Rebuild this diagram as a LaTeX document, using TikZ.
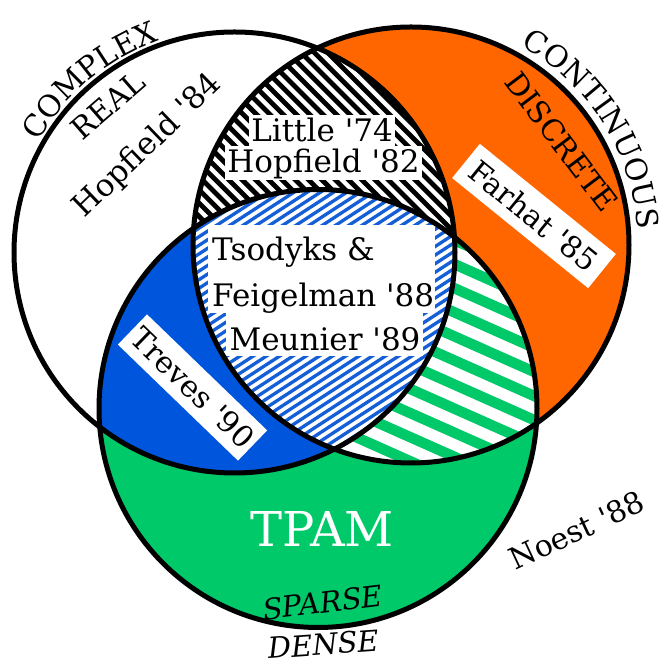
\documentclass[tikz,border=0pt]{standalone}
\usepackage{fontspec}
\setmainfont{DejaVu Serif}[Ligatures=TeXOff]
\usetikzlibrary{decorations.text,calc}
\definecolor{vorange}{RGB}{255,102,0}
\definecolor{vgreen}{RGB}{0,201,106}
\definecolor{vblue}{RGB}{0,85,221}
\definecolor{sblue}{RGB}{20,95,215}
\begin{document}
\begin{tikzpicture}[x=1pt,y=1pt,
  ring/.style={draw=black,line width=5pt},
  lbl/.style={font=\fontsize{30}{34}\selectfont, inner sep=0pt},
  big/.style={font=\fontsize{31}{34}\selectfont, inner sep=0pt},
  hl/.style={fill=white, font=\fontsize{31}{34}\selectfont, inner xsep=2pt, inner ysep=4pt, text height=23pt},
  tagbox/.style={fill=white, inner sep=0pt, font=\fontsize{30}{34}\selectfont},
  wrect/.style={fill=white, inner sep=0pt},
]
\useasboundingbox (0,0) rectangle (665,660);
\fill[white] (0,0) rectangle (665,660);
\coordinate (Lc) at (234.5,407.5);
\coordinate (Rc) at (411,415);
\coordinate (Bc) at (318,251.5);

% right circle
\fill[vorange] (Rc) circle[radius=218];
% L and R: black hatch
\begin{scope}
  \clip (Lc) circle[radius=220.5];
  \clip (Rc) circle[radius=218];
  \fill[white] (0,0) rectangle (665,660);
  \begin{scope}[shift={(322,520)},rotate=-45]
    \foreach \i in {-30,...,30} \draw[line width=4.8pt] (-320,\i*9.4) -- (320,\i*9.4);
  \end{scope}
\end{scope}
% bottom circle
\fill[vgreen] (Bc) circle[radius=219];
% B and L: blue
\begin{scope}
  \clip (Bc) circle[radius=219];
  \fill[vblue] (Lc) circle[radius=220.5];
\end{scope}
% B and R: green hatch
\begin{scope}
  \clip (Bc) circle[radius=219];
  \clip (Rc) circle[radius=218];
  \fill[white] (0,0) rectangle (665,660);
  \begin{scope}[shift={(440,330)},rotate=-24]
    \foreach \i in {-15,...,15} \draw[vgreen,line width=10.5pt] (-320,\i*22) -- (320,\i*22);
  \end{scope}
\end{scope}
% all three: blue hatch
\begin{scope}
  \clip (Bc) circle[radius=219];
  \clip (Rc) circle[radius=218];
  \clip (Lc) circle[radius=220.5];
  \fill[white] (0,0) rectangle (665,660);
  \begin{scope}[shift={(322,340)},rotate=33]
    \foreach \i in {-40,...,40} \draw[sblue,line width=3.3pt] (-320,\i*7.2) -- (320,\i*7.2);
  \end{scope}
\end{scope}

% white boxes and their texts
\node[hl, anchor=base, text depth=0pt] (little) at (322,518) {Little '74};
\node[hl, anchor=base, text depth=3pt] (hop82) at (323.5,487) {Hopfield '82};
\node[wrect, minimum width=227pt, minimum height=88pt] (boxa) at (321.5,391) {};
\node[wrect, minimum width=197pt, minimum height=43pt] (boxb) at (324.5,325.5) {};
\node[big, anchor=base west] (tsod) at (212,399) {Tsodyks \&};
\node[big, anchor=base west] (feig) at (212,353.5) {Feigelman '88};
\node[big, anchor=base] (meun) at (325,309) {Meunier '89};
\node[tagbox, rotate=-39, minimum width=175pt, minimum height=44pt] (farhat) at (534,444) {Farhat '85};
\node[tagbox, rotate=-44, minimum width=167pt, minimum height=42pt] (treves) at (192.5,272.5) {Treves '90};

% circle outlines
\draw[ring] (Lc) circle[radius=220.5];
\draw[ring] (Rc) circle[radius=218];
\draw[ring] (Bc) circle[radius=219];

% free labels
\node[big, rotate=44] (hop84) at (148,514) {Hopfield '84};
\node[lbl, rotate=41] (real) at (108,555) {REAL};
\node[lbl, rotate=-53] (discrete) at (561.7,518.3) {DISCRETE};
\node[lbl, text=white, font=\fontsize{48}{54}\selectfont, anchor=base] (tpam) at (322,113) {TPAM};
\node[lbl, font=\fontsize{29}{32}\selectfont\itshape, rotate=7, anchor=base] (sparse) at (324,47) {SPARSE};
\node[lbl, font=\fontsize{29}{32}\selectfont\itshape, rotate=4, anchor=base] (dense) at (324,5) {DENSE};
\node[lbl, rotate=25] (noest) at (576.7,129.7) {Noest '88};

\path[decorate, decoration={text along path, text align=center,
  text={|\fontsize{30}{34}\selectfont|COMPLEX}}]
  ($(Lc)+(175:225)$) arc[start angle=175, end angle=85, radius=225];
\path[decorate, decoration={text along path, text align=center,
  text={|\fontsize{30}{34}\selectfont|CONTINUOUS}}]
  ($(Rc)+(82.5:227.5)$) arc[start angle=82.5, end angle=-17.5, radius=227.5];
\end{tikzpicture}
\end{document}
